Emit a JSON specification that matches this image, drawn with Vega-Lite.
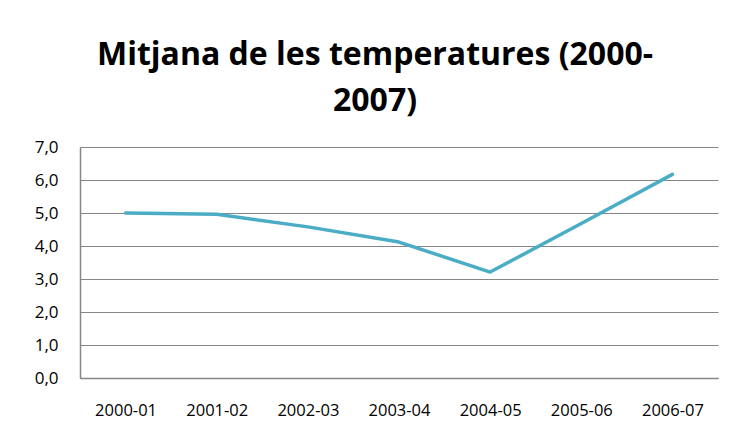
{
  "$schema": "https://vega.github.io/schema/vega-lite/v6.json",
  "width": 638,
  "height": 231,
  "autosize": {"type": "none"},
  "padding": {"left": 80, "top": 147, "right": 13, "bottom": 60},
  "background": "white",
  "title": {
    "text": ["Mitjana de les temperatures (2000-", "2007)"],
    "font": "Open Sans",
    "fontSize": 32,
    "fontWeight": "bold",
    "color": "#000000",
    "lineHeight": 46,
    "baseline": "alphabetic",
    "anchor": "middle",
    "frame": "group",
    "dx": -24,
    "offset": -5
  },
  "data": {
    "values": [
      {"periode": "2000-01", "temp": 5.0},
      {"periode": "2001-02", "temp": 4.96},
      {"periode": "2002-03", "temp": 4.58},
      {"periode": "2003-04", "temp": 4.12},
      {"periode": "2004-05", "temp": 3.21},
      {"periode": "2005-06", "temp": 4.68},
      {"periode": "2006-07", "temp": 6.17}
    ]
  },
  "mark": {"type": "line", "color": "#4BACC6", "strokeWidth": 3.5, "strokeCap": "round", "strokeJoin": "round"},
  "encoding": {
    "x": {
      "field": "periode",
      "type": "ordinal",
      "sort": null,
      "title": null,
      "axis": {
        "labelAngle": 0,
        "labelFont": "Open Sans",
        "labelFontSize": 16.5,
        "labelColor": "#000000",
        "labelPadding": 24,
        "ticks": false,
        "domainColor": "#868686",
        "domainWidth": 1.5,
        "grid": false
      }
    },
    "y": {
      "field": "temp",
      "type": "quantitative",
      "title": null,
      "scale": {"domain": [0, 7], "nice": false},
      "axis": {
        "values": [0, 1, 2, 3, 4, 5, 6, 7],
        "labelExpr": "replace(format(datum.value, '.1f'), '.', ',')",
        "labelFont": "Open Sans",
        "labelFontSize": 17,
        "labelColor": "#000000",
        "labelPadding": 22,
        "ticks": false,
        "domainColor": "#868686",
        "domainWidth": 1.5,
        "gridColor": "#868686",
        "gridWidth": 1,
        "gridOpacity": 1
      }
    }
  },
  "config": {"view": {"stroke": null}}
}
